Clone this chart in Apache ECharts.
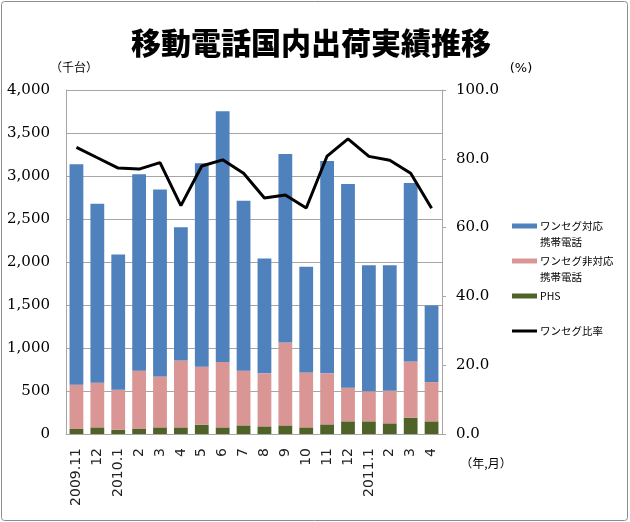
<!DOCTYPE html>
<html>
<head>
<meta charset="utf-8">
<script src="https://cdn.jsdelivr.net/npm/echarts@6/dist/echarts.min.js"></script>
<style>
  html, body { margin: 0; padding: 0; background: #fff; }
  #chart { width: 630px; height: 522px; }
</style>
</head>
<body>
<div id="chart"></div>
<script>
// 月（横軸）
const months = ['2009.11', '12', '2010.1', '2', '3', '4', '5', '6', '7', '8', '9', '10', '11', '12', '2011.1', '2', '3', '4'];
// 出荷台数（千台）
const phs = [58, 77, 50, 58, 77, 77, 108, 77, 100, 89, 100, 77, 112, 147, 147, 124, 190, 147];
const nonOneseg = [515, 519, 465, 678, 593, 779, 674, 759, 636, 616, 965, 639, 593, 391, 349, 379, 654, 457];
const oneseg = [2564, 2080, 1572, 2284, 2172, 1549, 2366, 2916, 1975, 1336, 2192, 1228, 2470, 2370, 1467, 1460, 2076, 891];
// ワンセグ比率（%）
const onesegRate = [83.3, 80.3, 77.3, 77.0, 78.9, 66.4, 77.9, 79.7, 75.8, 68.6, 69.5, 65.7, 80.8, 85.8, 80.7, 79.6, 75.8, 65.6];

const NAME_ONE = 'ワンセグ対応携帯電話';
const NAME_NON = 'ワンセグ非対応携帯電話';
const NAME_PHS = 'PHS';
const NAME_RATE = 'ワンセグ比率';

const JP = '"Noto Sans CJK JP", sans-serif';

// 凡例の表示名（2行）
const legendLabel = {};
legendLabel[NAME_ONE] = '\nワンセグ対応\n携帯電話';
legendLabel[NAME_NON] = '\nワンセグ非対応\n携帯電話';
legendLabel[NAME_PHS] = 'PHS';
legendLabel[NAME_RATE] = 'ワンセグ比率';

function makeLegend(name, top, h) {
  return {
    data: [name],
    left: 512,
    top: top,
    padding: 0,
    itemWidth: 25,
    itemHeight: h,
    icon: 'rect',
    selectedMode: false,
    formatter: (n) => legendLabel[n],
    textStyle: { fontFamily: JP, fontSize: 10.5, lineHeight: 16, color: '#000', padding: [0, 0, 0, -2] }
  };
}

const chart = echarts.init(document.getElementById('chart'));
chart.setOption({
  animation: false,
  grid: { left: 66, right: 188, top: 90, bottom: 88 },
  legend: [
    makeLegend(NAME_ONE, 202, 5),
    makeLegend(NAME_NON, 237, 5),
    makeLegend(NAME_PHS, 288, 5),
    makeLegend(NAME_RATE, 323, 3)
  ],
  graphic: [
    { type: 'rect', shape: { x: 1.5, y: 1.5, width: 626, height: 519, r: 3 },
      style: { fill: 'none', stroke: '#8c8c8c', lineWidth: 1 }, silent: true },
    { type: 'text', x: 311, y: 43,
      style: { text: '移動電話国内出荷実績推移', font: '900 30px ' + JP, fill: '#000', align: 'center', verticalAlign: 'middle' } },
    { type: 'text', x: 74, y: 67,
      style: { text: '（千台）', font: '12px ' + JP, fill: '#000', align: 'center', verticalAlign: 'middle' } },
    { type: 'text', x: 521, y: 69,
      style: { text: '(%)', font: '13px "DejaVu Sans"', fill: '#000', align: 'center', verticalAlign: 'middle' } },
    { type: 'text', x: 486, y: 463,
      style: { text: '（年,月）', font: '12px ' + JP, fill: '#000', align: 'center', verticalAlign: 'middle' } }
  ],
  xAxis: {
    type: 'category',
    data: months,
    axisLine: { lineStyle: { color: '#a6a6a6' } },
    axisTick: { show: false },
    axisLabel: { rotate: 90, margin: 14, interval: 0, fontFamily: '"DejaVu Sans"', fontSize: 14, color: '#222' }
  },
  yAxis: [
    {
      type: 'value', min: 0, max: 4000, interval: 500,
      axisLine: { show: true, lineStyle: { color: '#a6a6a6' } },
      axisTick: { show: false },
      splitLine: { lineStyle: { color: '#a6a6a6' } },
      axisLabel: {
        margin: 16, fontFamily: '"DejaVu Serif"', fontSize: 15, color: '#000',
        formatter: (v) => v.toLocaleString('en-US')
      }
    },
    {
      type: 'value', min: 0, max: 100, interval: 20,
      axisLine: { show: true, lineStyle: { color: '#a6a6a6' } },
      axisTick: { show: true, length: 4, lineStyle: { color: '#a6a6a6' } },
      splitLine: { show: false },
      axisLabel: {
        margin: 14, fontFamily: '"DejaVu Serif"', fontSize: 15, color: '#000',
        formatter: (v) => v.toFixed(1)
      }
    }
  ],
  series: [
    { name: NAME_PHS, type: 'bar', stack: 'total', data: phs, barCategoryGap: '34%',
      itemStyle: { color: '#4f6228' } },
    { name: NAME_NON, type: 'bar', stack: 'total', data: nonOneseg,
      itemStyle: { color: '#d99694' } },
    { name: NAME_ONE, type: 'bar', stack: 'total', data: oneseg,
      itemStyle: { color: '#4f81bd' } },
    { name: NAME_RATE, type: 'line', yAxisIndex: 1, data: onesegRate,
      symbol: 'none', itemStyle: { color: '#000' },
      lineStyle: { color: '#000', width: 3 } }
  ]
});
</script>
</body>
</html>
